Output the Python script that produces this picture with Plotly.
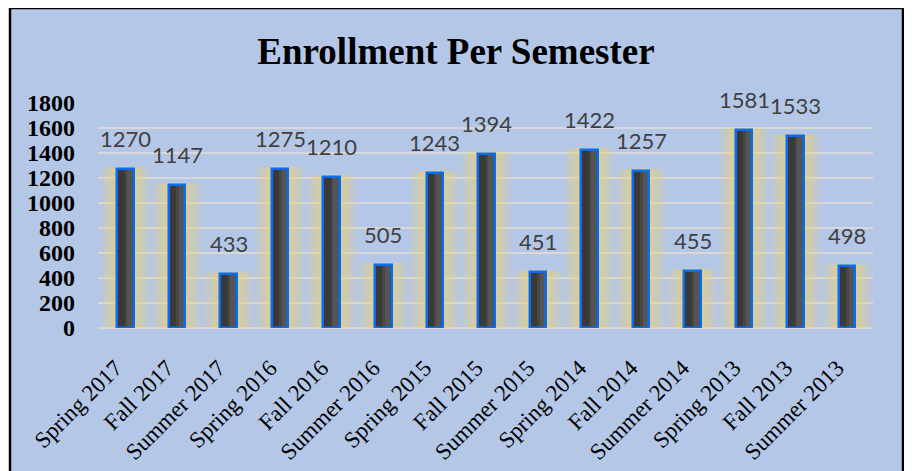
import plotly.graph_objects as go

# 数据
semesters = ["Spring 2017", "Fall 2017", "Summer 2017", "Spring 2016", "Fall 2016",
             "Summer 2016", "Spring 2015", "Fall 2015", "Summer 2015", "Spring 2014",
             "Fall 2014", "Summer 2014", "Spring 2013", "Fall 2013", "Summer 2013"]
enrollment = [1270, 1147, 433, 1275, 1210, 505, 1243, 1394, 451, 1422, 1257, 455, 1581, 1533, 498]
y_ticks = [0, 200, 400, 600, 800, 1000, 1200, 1400, 1600, 1800]

# 画布尺寸（页面 body 自带 8px 边距，所以所有位置减 8）
W, H = 912, 471
OFF = 8
ML, MT = 98 - OFF, 103 - OFF
MR, MB = W - (873 - OFF), H - (328 - OFF)
PW, PH = W - ML - MR, H - MT - MB

BG = "#B4C7E7"
SERIF = "Liberation Serif, Times New Roman, serif"
GLOW = "rgba(245, 212, 100, {a})"

fig = go.Figure()

# 柱子外围的金色光晕（多层半透明叠加，越往里越浓）
for w, a, lw in [(0.90, 0.10, 6), (0.76, 0.13, 5), (0.62, 0.17, 4), (0.48, 0.22, 3)]:
    fig.add_trace(go.Bar(
        x=semesters, y=enrollment, width=w,
        marker=dict(color=GLOW.format(a=a), line=dict(color=GLOW.format(a=a * 0.6), width=lw)),
        hoverinfo="skip", showlegend=False,
    ))

# 深灰柱体 + 右侧稍亮的条带，模拟渐变
bar_w = 0.32
fig.add_trace(go.Bar(x=semesters, y=enrollment, width=bar_w,
                     marker=dict(color="#393939", line=dict(width=0)), showlegend=False))
fig.add_trace(go.Bar(x=semesters, y=enrollment, width=bar_w * 0.55, offset=-bar_w * 0.05,
                     marker=dict(color="#474747", line=dict(width=0)), hoverinfo="skip", showlegend=False))
fig.add_trace(go.Bar(x=semesters, y=enrollment, width=bar_w * 0.3, offset=bar_w * 0.1,
                     marker=dict(color="#555555", line=dict(width=0)), hoverinfo="skip", showlegend=False))
# 蓝色边框
fig.add_trace(go.Bar(x=semesters, y=enrollment, width=bar_w,
                     marker=dict(color="rgba(0,0,0,0)", line=dict(color="#0A6CF0", width=2.5)),
                     hoverinfo="skip", showlegend=False))

# 数据标签
for s, v in zip(semesters, enrollment):
    fig.add_annotation(x=s, y=v, text=str(v), showarrow=False, yanchor="bottom",
                       yshift=15, font=dict(family="Lato", size=22, color="#404040"))

# 背景框（带黑色边线）
fig.add_shape(type="rect", xref="paper", yref="paper", layer="below",
              x0=(10 - OFF - ML) / PW, x1=(903 - OFF - ML) / PW,
              y0=(H - MB - 480) / PH, y1=(H - MB - 0) / PH,
              fillcolor=BG, line=dict(color="black", width=2.5))

fig.update_yaxes(
    range=[0, 1800], tickvals=y_ticks, ticktext=[str(t) for t in y_ticks],
    showgrid=True, gridcolor="#D9D9D9", gridwidth=2,
    zeroline=True, zerolinecolor="#D9D9D9", zerolinewidth=2,
    showline=False, ticklabelstandoff=22, automargin=False,
    tickfont=dict(family=SERIF, size=24, color="black", weight="bold"),
)
fig.update_xaxes(
    tickangle=-45, showgrid=False, showline=False, automargin=False,
    ticklabelstandoff=21, ticklabelshift=-10,
    tickfont=dict(family=SERIF, size=23, color="black"),
)

fig.update_layout(
    width=W, height=H,
    barmode="overlay", bargap=0,
    paper_bgcolor="white", plot_bgcolor="rgba(0,0,0,0)",
    margin=dict(l=ML, r=MR, t=MT, b=MB, autoexpand=False),
    title=dict(text="<b>Enrollment Per Semester</b>", x=(456 - OFF) / W, xanchor="center",
               y=1 - (51 - OFF) / H, yanchor="middle", yref="container",
               font=dict(family=SERIF, size=37, color="black")),
    showlegend=False,
)

fig.write_html("out.html")
